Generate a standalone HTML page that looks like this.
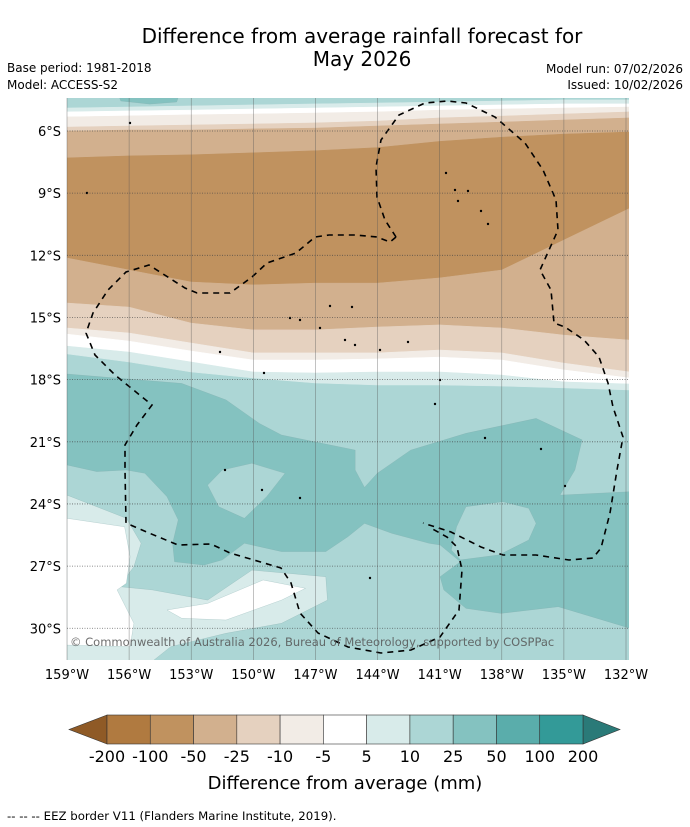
<!DOCTYPE html>
<html><head><meta charset="utf-8"><style>
body{margin:0;background:#fff;width:690px;height:827px;overflow:hidden;font-family:"DejaVu Sans","Liberation Sans",sans-serif}
svg{position:absolute;left:0;top:0;font-family:"DejaVu Sans","Liberation Sans",sans-serif}
</style></head><body>
<svg id="svg" width="690" height="827">
<text x="362" y="43" font-size="20" text-anchor="middle" fill="#000">Difference from average rainfall forecast for</text>
<text x="362" y="66" font-size="20" text-anchor="middle" fill="#000">May 2026</text>
<text x="7" y="72" font-size="12">Base period: 1981-2018</text>
<text x="7" y="89" font-size="12">Model: ACCESS-S2</text>
<text x="683" y="73" font-size="12" text-anchor="end">Model run: 07/02/2026</text>
<text x="683" y="89" font-size="12" text-anchor="end">Issued: 10/02/2026</text>
<defs><clipPath id="mc"><rect x="67" y="98" width="562" height="562"/></clipPath></defs>
<g id="map" clip-path="url(#mc)"></g>
<g id="grid"></g>
<g id="axes"></g>
<text x="70" y="646" font-size="11.5" fill="#555" fill-opacity="0.85">© Commonwealth of Australia 2026, Bureau of Meteorology, supported by COSPPac</text>
<g id="cbar"></g>
<text x="345" y="789" font-size="18" text-anchor="middle">Difference from average (mm)</text>
<text x="7" y="820" font-size="11.75">--  --  -- EEZ border V11 (Flanders Marine Institute, 2019).</text>
</svg>
<script>
const levels=["-200","-100","-50","-25","-10","-5","5","10","25","50","100","200"];
const binColors=["#b07a40","#c0925f","#d2b08e","#e5d1bf","#f2ece6","#ffffff","#d8ebea","#acd6d5","#84c2c0","#5aadab","#339a98"];
const lowExtColor="#8f5a26", highExtColor="#2a7a78";
const lonTicks=[159,156,153,150,147,144,141,138,135,132];
const latTicks=[6,9,12,15,18,21,24,27,30];
const sampleLons=[159,156,153,150,147,144,141,138,135,131.8];
const b0=[4.89,4.84,4.79,4.74,4.69,4.65,4.6,4.55,4.5,4.5];
const b1=[5.08,5.03,4.99,4.94,4.89,4.84,4.79,4.74,4.69,4.69];
const b2=[5.32,5.27,5.22,5.18,5.13,5.08,4.99,4.94,4.89,4.84];
const b3=[5.81,5.76,5.71,5.66,5.61,5.52,5.37,5.28,5.18,5.08];
const b4=[6,5.95,5.95,5.9,5.86,5.76,5.66,5.57,5.47,5.37];
const b5=[7.3,7.2,7.15,7.05,6.95,6.8,6.5,6.3,6.15,6.05];
const b6=[12.13,12.71,13.29,13.43,13.34,13.34,13.09,12.71,11.26,9.72];
const b7=[14.3,14.5,15.27,15.6,15.6,15.46,15.36,15.51,15.85,16.09];
const b8=[15.51,15.75,16.23,16.71,16.71,16.71,16.57,16.71,17.2,17.63];
const b9=[15.8,16.14,16.62,17.05,17.05,17.0,16.91,17.05,17.53,17.92];
const b10=[16.38,16.67,17.15,17.63,17.68,17.63,17.63,17.78,18.11,18.21];
const b11=[16.76,17.15,17.63,17.92,18.16,18.26,18.26,18.31,18.4,18.5];
const darkRegion=[[159,17.73],[153.46,18.18],[151.32,18.98],[149.71,20.11],[148.64,20.67],[145.08,21.4],[145.08,22.36],[144.63,23.2],[144.01,22.52],[142.4,21.4],[139.73,20.59],[136.34,19.87],[134.12,20.91],[134.47,22.36],[135.19,23.57],[131.8,23.41],[131.8,30.0],[135.27,28.96],[138.04,29.28],[139.73,29.04],[140.8,28.15],[140.98,27.51],[140.0,26.79],[140.98,25.98],[141.51,25.9],[143.3,25.42],[144.63,24.94],[145.43,25.58],[146.5,26.3],[148.64,26.3],[150.43,25.9],[151.5,26.7],[152.39,26.95],[153.81,26.79],[153.9,25.9],[153.63,24.77],[154.17,23.65],[155.24,22.52],[156.13,22.36],[157.56,22.44],[159,22.12]];
const lightBlobA=[[152.21,23.09],[151.5,22.36],[150.07,22.04],[148.47,22.52],[149.36,23.65],[150.43,24.69],[151.67,24.13]];
const lightBlobB=[[139.73,24.13],[137.95,23.89],[136.7,24.21],[136.34,24.94],[136.7,25.74],[138.13,26.46],[140.0,26.7],[140.44,26.22],[140.18,25.1]];
const paleRegion=[[159,23.57],[156.13,24.69],[155.42,25.9],[155.77,27.03],[156.49,27.99],[154.88,28.15],[152.21,28.64],[150.07,27.19],[146.5,27.51],[146.42,28.64],[148.64,29.76],[151.32,30.24],[153.99,30.89],[154.88,31.6],[159,31.6]];
const whiteLeft=[[159,24.69],[156.22,25.1],[155.95,26.54],[156.13,27.83],[156.58,28.15],[155.77,29.76],[155.95,30.89],[159,30.81]];
const whiteBlob=[[154.17,29.12],[152.21,28.8],[149.53,27.67],[147.48,28.07],[148.64,28.64],[151.32,29.6],[153.46,29.52]];
const topDark=[[156.5,4.3],[156.4,4.55],[155,4.7],[153.7,4.6],[153.6,4.3]];

const NS="http://www.w3.org/2000/svg";
const X=lonW=>67+(159-lonW)*559/27;
const Y=s=>131+(s-6)*20.72;
function mk(tag,attrs,parent){const e=document.createElementNS(NS,tag);for(const k in attrs)e.setAttribute(k,attrs[k]);parent.appendChild(e);return e;}
const map=document.getElementById('map');
function pts(arr){return arr.map(p=>X(p[0]).toFixed(1)+','+Y(p[1]).toFixed(1)).join(' ');}
function band(top,bot,color,name){
  const a=sampleLons.map((l,i)=>[l,top[i]]);const b=sampleLons.map((l,i)=>[l,bot[i]]).reverse();
  const el=mk('polygon',{points:pts(a.concat(b)),fill:color,stroke:color,'stroke-width':0.5},map);
  
  
}
const bg=mk('rect',{x:67,y:98,width:562,height:562,fill:binColors[7]},map);


const topEdge=sampleLons.map(()=>4.0);
band(topEdge,b0,binColors[7],'band-top-10-25');
band(b0,b1,binColors[6],'band-5-10-north');
band(b1,b2,binColors[5],'band-neutral-north');
band(b2,b3,binColors[4],'band-minus10-north');
band(b3,b4,binColors[3],'band-minus25-north');
band(b4,b5,binColors[2],'band-minus50-north');
band(b5,b6,binColors[1],'band-minus100');
band(b6,b7,binColors[2],'band-minus50-south');
band(b7,b8,binColors[3],'band-minus25-south');
band(b8,b9,binColors[4],'band-minus10-south');
band(b9,b10,binColors[5],'band-neutral-south');
band(b10,b11,binColors[6],'band-5-10-south');
function poly(arr,color,name){
  const el=mk('polygon',{points:pts(arr),fill:color,stroke:'#7fa9a8','stroke-width':0.4,'stroke-opacity':0.6},map);
  
  
}
poly(topDark,binColors[8],'contour-25-50-top');
poly(darkRegion,binColors[8],'contour-25-50');
poly(lightBlobA,binColors[7],'contour-10-25-blob-a');
poly(lightBlobB,binColors[7],'contour-10-25-blob-b');
poly(paleRegion,binColors[6],'contour-5-10-southwest');
poly(whiteLeft,binColors[5],'contour-neutral-west');
poly(whiteBlob,binColors[5],'contour-neutral-blob');
const eez1="M396,237 L385,220 L377,197 L376,167 L381,140 L399,115 L425,103 L447,101 L466,103 L495,117 L525,143 L543,170 L556,200 L558,230 L540,270 L551,290 L554,323 L565,327 L584,340 L599,357 L608,383 L613,407 L623,437 L617,470 L610,513 L601,548 L593,558 L569,560 L536,555 L503,555 L481,547 L451,532 L423,523";
const eez2="M396,237 L390,242 L377,237 L355,235 L329,235 L315,237 L296,253 L267,263 L252,277 L241,285 L230,293 L197,293 L185,288 L149,265 L126,272 L108,290 L93,313 L86,333 L95,355 L115,375 L152,405 L137,425 L125,445 L125,470 L126,523 L149,533 L178,545 L211,544 L230,553 L281,568 L291,583 L300,613 L318,633 L348,647 L381,653 L411,650 L440,637 L459,610 L462,570 L457,547 L447,537 L429,527";
[eez1,eez2].forEach((d,i)=>{const e=mk('path',{d:d,fill:'none',stroke:'#000','stroke-width':1.6,'stroke-dasharray':'6,5'},map);

});
const islands=[[455,190],[458,201],[468,191],[481,211],[488,224],[446,173],[330,306],[352,307],[300,320],[290,318],[320,328],[345,340],[355,345],[380,350],[408,342],[440,380],[435,404],[485,438],[541,449],[565,486],[225,470],[262,490],[300,498],[370,578],[264,373],[220,352],[130,123],[87,193]];
islands.forEach(p=>{const c=mk('circle',{cx:p[0],cy:p[1],r:1.2,fill:'#000'},map);

});
const grid=document.getElementById('grid');
lonTicks.forEach(l=>{const x=X(l);const e=mk('line',{x1:x,x2:x,y1:98,y2:660,stroke:'#555','stroke-width':0.6,'stroke-opacity':0.6},grid);

});
latTicks.forEach(s=>{const y=Y(s);const e=mk('line',{x1:67,x2:629,y1:y,y2:y,stroke:'#444','stroke-width':0.8,'stroke-dasharray':'1,1.5','stroke-opacity':0.8},grid);

});
const axes=document.getElementById('axes');
lonTicks.forEach(l=>{const t=mk('text',{x:X(l),y:679,'font-size':13,'text-anchor':'middle'},axes);t.textContent=l+'°W';

});
latTicks.forEach(s=>{const t=mk('text',{x:61,y:Y(s)+5,'font-size':13,'text-anchor':'end'},axes);t.textContent=s+'°S';

});
const cb=document.getElementById('cbar');
const cx0=107,cx1=583,cy0=715,cy1=744,bw=(cx1-cx0)/binColors.length;
const lt=mk('polygon',{points:`${cx0},${cy0} 69,${(cy0+cy1)/2} ${cx0},${cy1}`,fill:lowExtColor,stroke:'#333','stroke-width':0.6},cb);


const rt=mk('polygon',{points:`${cx1},${cy0} 620,${(cy0+cy1)/2} ${cx1},${cy1}`,fill:highExtColor,stroke:'#333','stroke-width':0.6},cb);


binColors.forEach((c,i)=>{const r=mk('rect',{x:cx0+i*bw,y:cy0,width:bw,height:cy1-cy0,fill:c,stroke:'#333','stroke-width':0.6},cb);

});
levels.forEach((lv,i)=>{const t=mk('text',{x:cx0+i*bw,y:762,'font-size':16,'text-anchor':'middle'},cb);t.textContent=lv;

});
</script>
</body></html>
